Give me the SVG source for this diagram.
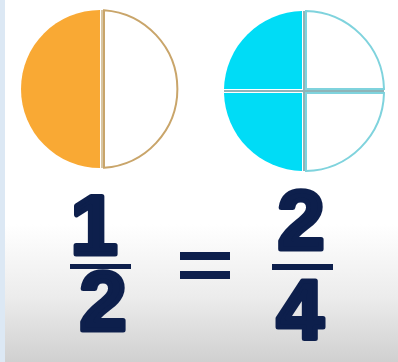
<svg xmlns="http://www.w3.org/2000/svg" width="398" height="362" viewBox="0 0 398 362">
<defs>
<linearGradient id="bg" x1="0" y1="0" x2="0" y2="1">
<stop offset="0" stop-color="#ffffff"/>
<stop offset="0.62" stop-color="#ffffff"/>
<stop offset="0.82" stop-color="#ececec"/>
<stop offset="1" stop-color="#d0d0d0"/>
</linearGradient>
<style>
.num{font-family:"Liberation Sans","DejaVu Sans",sans-serif;font-weight:bold;font-size:84px;fill:#0d1f4c;stroke:#0d1f4c;stroke-width:5;stroke-linejoin:round;text-anchor:middle}
.bar{fill:#0d1f4c}
</style>
</defs>
<rect width="398" height="362" fill="url(#bg)"/>
<rect x="0" y="0" width="5" height="362" fill="#dce8f4"/>
<g id="half-circle">
<path d="M100,10 A79,79 0 0 0 100,168 Z" fill="#f9a934"/>
<path d="M104,10.2 A79,79 0 0 1 104,167.8 Z" fill="#ffffff" stroke="#c9a56a" stroke-width="2"/>
<line x1="102" y1="10" x2="102" y2="168" stroke="#d8c6a4" stroke-width="2"/>
</g>
<g id="quarter-circle">
<path d="M302,89 L302,11 A80,80 0 0 0 224,89 Z" fill="#00dcf6"/>
<path d="M302,93 L224,93 A80,80 0 0 0 302,171 Z" fill="#00dcf6"/>
<path d="M306,89 L306,11 A80,80 0 0 1 384,89 Z" fill="#ffffff" stroke="#7fd3dd" stroke-width="2"/>
<path d="M306,93 L384,93 A80,80 0 0 1 306,171 Z" fill="#ffffff" stroke="#7fd3dd" stroke-width="2"/>
<line x1="304" y1="11" x2="304" y2="171" stroke="#8fb4b8" stroke-width="2"/>
<line x1="224" y1="91" x2="384" y2="91" stroke="#8fb4b8" stroke-width="2"/>
</g>
<g id="fraction-left">
<text class="num" x="94" y="254">1</text>
<rect class="bar" x="70" y="264" width="61" height="5"/>
<text class="num" x="103" y="330">2</text>
</g>
<g id="equals">
<rect class="bar" x="180" y="252" width="50" height="8"/>
<rect class="bar" x="180" y="271" width="50" height="8"/>
</g>
<g id="fraction-right">
<text class="num" x="301" y="249">2</text>
<rect class="bar" x="272" y="264" width="61" height="6"/>
<text class="num" x="300" y="339">4</text>
</g>
</svg>
